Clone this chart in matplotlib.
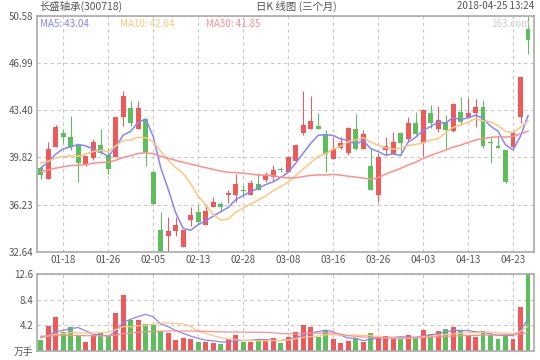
import numpy as np
import pandas as pd
import matplotlib
matplotlib.use('Agg')
import matplotlib.pyplot as plt

plt.rcParams['font.family'] = ['Noto Sans CJK SC', 'DejaVu Sans']

# daily candles 2018-01-15 .. 2018-04-25
tick_dates = ['01-18', '01-26', '02-05', '02-13', '02-28', '03-08',
              '03-16', '03-26', '04-03', '04-13', '04-23']
tick_idx = [3, 9, 15, 21, 27, 33, 39, 45, 51, 57, 63]

opens = [39.00, 38.17, 40.64, 41.71, 41.38, 40.77, 39.28, 39.79, 40.75, 40.01,
         39.81, 42.92, 43.59, 42.01, 42.75, 38.72, 34.26, 33.80, 34.18, 32.97,
         35.02, 35.68, 34.69, 36.08, 36.29, 36.95, 36.92, 37.31, 36.92, 37.79,
         38.11, 38.36, 38.91, 38.74, 39.58, 41.71, 41.99, 42.22, 41.61, 39.71,
         40.57, 40.19, 41.97, 40.47, 39.20, 36.92, 40.39, 40.09, 41.66, 41.25,
         42.42, 40.90, 43.18, 41.97, 42.50, 41.86, 43.28, 42.92, 43.23, 43.64,
         40.96, 40.70, 40.39, 40.64, 42.92, 49.57]
closes = [38.44, 40.47, 42.14, 41.40, 40.62, 39.38, 39.91, 41.00, 40.19, 38.97,
          42.90, 44.50, 42.47, 43.59, 40.26, 36.24, 32.68, 34.24, 34.64, 34.31,
          35.45, 34.87, 35.70, 36.39, 36.01, 37.07, 37.81, 37.28, 37.86, 37.30,
          38.49, 38.87, 38.88, 39.84, 40.77, 42.29, 42.60, 42.01, 40.07, 40.47,
          40.95, 42.09, 40.47, 41.59, 37.35, 39.81, 40.70, 41.00, 40.95, 42.42,
          41.61, 43.43, 42.42, 42.67, 41.91, 43.89, 42.54, 43.18, 43.64, 40.72,
          40.93, 40.57, 37.96, 41.76, 45.94, 48.76]
highs = [39.18, 41.00, 42.29, 41.97, 42.98, 40.77, 39.94, 41.21, 41.97, 40.57,
         42.90, 44.88, 44.12, 44.12, 42.75, 38.82, 35.63, 35.25, 35.25, 34.31,
         36.01, 36.21, 36.26, 36.80, 36.44, 37.35, 38.52, 37.73, 38.11, 38.62,
         38.67, 39.25, 39.08, 39.94, 40.85, 44.88, 44.50, 43.23, 41.91, 41.40,
         41.40, 42.16, 43.13, 41.91, 40.52, 40.19, 41.40, 41.78, 41.76, 42.90,
         43.28, 43.49, 43.79, 43.74, 43.03, 43.99, 44.40, 44.32, 44.24, 44.19,
         41.46, 41.46, 40.39, 41.76, 45.94, 50.58]
lows = [38.17, 38.17, 40.64, 40.90, 40.39, 37.98, 39.18, 39.63, 40.09, 38.59,
        39.81, 42.24, 42.22, 42.01, 39.18, 36.24, 32.64, 32.64, 33.80, 32.97,
        34.56, 34.77, 34.69, 36.08, 35.63, 36.34, 36.46, 36.90, 36.92, 37.30,
        37.98, 38.04, 38.70, 38.74, 39.58, 41.53, 41.99, 42.01, 38.74, 39.71,
        40.47, 40.01, 40.39, 40.47, 37.35, 36.46, 40.01, 40.09, 40.01, 41.02,
        41.53, 39.94, 42.04, 41.78, 40.47, 41.78, 42.29, 42.87, 42.12, 40.52,
        39.38, 40.52, 37.90, 40.52, 42.47, 47.67]
# volume, 万手
vols = [1.76, 4.07, 5.56, 3.13, 3.85, 2.42, 1.43, 2.59, 2.92, 2.54,
        6.22, 9.19, 5.11, 5.06, 4.40, 4.24, 3.25, 2.92, 1.76, 2.14,
        1.93, 1.43, 1.43, 1.27, 1.10, 1.93, 2.59, 1.48, 1.48, 1.76,
        1.76, 2.09, 1.27, 2.26, 3.08, 4.24, 3.91, 2.26, 3.41, 1.93,
        1.27, 1.60, 2.09, 1.43, 2.92, 2.26, 2.42, 1.93, 1.93, 2.59,
        2.26, 3.41, 2.75, 3.25, 3.58, 3.91, 3.25, 2.59, 2.26, 3.25,
        2.59, 1.93, 2.75, 1.93, 7.21, 12.60]

# days before the window (not drawn), estimated so the MA lines start where the chart shows
prev_closes = [37.6, 37.8, 38.0, 38.3, 38.5, 38.2, 38.0, 38.4, 38.6, 38.3,
               38.1, 38.4, 38.5, 38.7, 38.5, 38.7, 38.9, 39.0, 39.1, 39.2,
               39.2, 39.6, 40.3, 40.1, 39.7, 38.3, 39.0, 39.4, 39.9]
prev_vols = [3.4, 3.1, 2.9, 3.2, 2.8, 3.0, 2.7, 3.1, 2.8, 2.2,
             1.9, 2.3, 2.0, 2.1, 2.1, 1.8, 2.0, 1.7, 1.9, 2.0,
             2.6, 2.3, 2.5, 2.4, 2.5, 2.1, 2.4, 2.2, 2.2]

ma_text = ['MA5: 43.04', 'MA10: 42.64', 'MA30: 41.85']

RED = '#ee5a5a'
GREEN = '#5cbf5c'
C_MA5 = '#8585ff'
C_MA10 = '#ffc67f'
C_MA30 = '#ff8f8f'
GRID = '#c8c8c8'
EDGE = '#aaaaaa'
TXT = '#555555'


def ma(prev, cur, n):
    s = pd.Series(prev + cur).rolling(n).mean()
    return s.iloc[len(prev):].values


o = np.array(opens)
c = np.array(closes)
x = np.arange(len(c))
cols = np.where(c >= o, RED, GREEN)

fig = plt.figure(figsize=(5.4, 3.6), dpi=100)
ax = fig.add_axes([37 / 540, 1 - 251.7 / 360, 497 / 540, 235.7 / 360])
axv = fig.add_axes([37 / 540, 1 - 350.7 / 360, 497 / 540, 76.4 / 360])

# candles
ax.vlines(x, lows, highs, colors=cols, linewidth=0.75, zorder=2)
ax.bar(x, np.maximum(np.abs(c - o), 0.06), bottom=np.minimum(o, c),
       width=0.66, color=cols, linewidth=0, zorder=2)
ax.plot(x, ma(prev_closes, closes, 5), color=C_MA5, lw=1.1, zorder=3)
ax.plot(x, ma(prev_closes, closes, 10), color=C_MA10, lw=1.1, zorder=3)
ax.plot(x, ma(prev_closes, closes, 30), color=C_MA30, lw=1.1, zorder=3)

lo, hi = min(lows), max(highs)
ax.set_ylim(lo, hi)
ax.set_xlim(-0.5, 65.8)
ax.set_yticks(np.linspace(lo, hi, 6))
ax.set_yticklabels(['%.2f' % v for v in np.linspace(lo, hi, 6)])
ax.set_xticks(tick_idx)
ax.set_xticklabels(tick_dates)

# volume
axv.bar(x, vols, width=0.66, color=cols, linewidth=0, zorder=2)
axv.plot(x, ma(prev_vols, vols, 5), color=C_MA5, lw=0.9, zorder=3)
axv.plot(x, ma(prev_vols, vols, 10), color=C_MA10, lw=0.9, zorder=3)
axv.plot(x, ma(prev_vols, vols, 30), color=C_MA30, lw=0.9, zorder=3)
vmax = max(vols)
axv.set_ylim(0, vmax)
axv.set_xlim(-0.5, 65.8)
vt = np.linspace(0, vmax, 4)
axv.set_yticks(vt)
axv.set_yticklabels(['万手'] + ['%.1f' % v for v in vt[1:]])
axv.set_xticks(tick_idx)
axv.set_xticklabels([])

for a in (ax, axv):
    a.grid(color=GRID, linestyle=(0, (3, 3)), linewidth=0.8, zorder=0)
    a.set_axisbelow(True)
    for s in a.spines.values():
        s.set_color(EDGE)
        s.set_linewidth(1.2)
    a.tick_params(length=0, labelsize=7, colors=TXT, pad=2.5)


def px(xp, yp):
    return xp / 540, 1 - yp / 360


fig.text(*px(39, 6), '长盛轴承(300718)', fontsize=7.5, color=TXT, va='center')
fig.text(*px(296, 6), '日K 线图 (三个月)', fontsize=7.5, color=TXT, va='center', ha='center')
fig.text(*px(534, 6), '2018-04-25 13:24', fontsize=7, color=TXT, va='center', ha='right')
fig.text(*px(40, 24), ma_text[0], fontsize=7, color=C_MA5, va='center')
fig.text(*px(120, 24), ma_text[1], fontsize=7, color=C_MA10, va='center')
fig.text(*px(206, 24), ma_text[2], fontsize=7, color=C_MA30, va='center')
fig.text(*px(530, 24), '163.com', fontsize=7, color='#cccccc', va='center', ha='right')

fig.savefig('out.png', dpi=100)
